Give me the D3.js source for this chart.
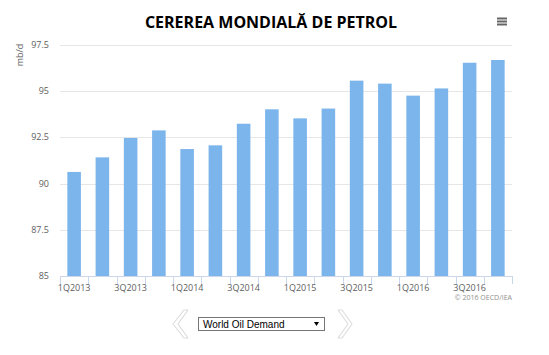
<!DOCTYPE html>
<html><head><meta charset="utf-8">
<script src="https://cdn.jsdelivr.net/npm/d3@7"></script>
<style>
html,body{margin:0;padding:0;background:#fff;}
svg{display:block;}
</style></head>
<body>
<svg id="c" width="549" height="355"></svg>
<script>
const categories = ["1Q2013","2Q2013","3Q2013","4Q2013","1Q2014","2Q2014","3Q2014","4Q2014",
  "1Q2015","2Q2015","3Q2015","4Q2015","1Q2016","2Q2016","3Q2016","4Q2016"];
const demand = [90.63,91.42,92.47,92.88,91.87,92.07,93.24,94.02,93.53,94.06,95.57,95.41,94.76,95.15,96.54,96.69];
const yTicks = [85,87.5,90,92.5,95,97.5];
const title = "CEREREA MONDIALĂ DE PETROL";
const yTitle = "mb/d";
const credit = "© 2016 OECD/IEA";
const selectLabel = "World Oil Demand";

const svg = d3.select("#c");
const pL = 60, pR = 512, pT = 45, pB = 276;
const x = d3.scaleBand().domain(categories).range([pL, pR]).paddingInner(0.52).paddingOuter(0.26);
const y = d3.scaleLinear().domain([85, 97.5]).range([pB, pT]);
const font = "'Open Sans', 'DejaVu Sans', sans-serif";

// grid
svg.append("g").selectAll("line").data(yTicks.filter(d=>d>85)).join("line")
  .attr("x1", pL).attr("x2", pR).attr("y1", d=>Math.round(y(d))+0.5).attr("y2", d=>Math.round(y(d))+0.5)
  .attr("stroke", "#e6e6e6").attr("stroke-width", 1);

// y labels
svg.append("g").selectAll("text").data(yTicks).join("text")
  .attr("x", 49).attr("y", d=>y(d)+3).attr("text-anchor","end")
  .attr("font-family", font).attr("font-size", 9).attr("fill", "#606060")
  .text(d=>d3.format("~g")(d));

// bars
svg.append("g").selectAll("rect").data(demand).join("rect")
  .attr("x", (d,i)=>x(categories[i])).attr("width", x.bandwidth())
  .attr("y", d=>y(d)).attr("height", d=>y(85)-y(d))
  .attr("fill", "#7cb5ec");

// x axis
const step = (pR-pL)/categories.length;
svg.append("line").attr("x1", pL).attr("x2", pR).attr("y1", pB+0.5).attr("y2", pB+0.5)
  .attr("stroke", "#ccd6eb");
svg.append("g").selectAll("line").data(d3.range(categories.length+1)).join("line")
  .attr("x1", i=>Math.round(pL+i*step)+0.5).attr("x2", i=>Math.round(pL+i*step)+0.5)
  .attr("y1", pB).attr("y2", pB+8).attr("stroke", "#ccd6eb");
svg.append("g").selectAll("text").data(categories.filter((d,i)=>i%2===0)).join("text")
  .attr("x", d=>x(d)+x.bandwidth()/2).attr("y", pB+15).attr("text-anchor","middle")
  .attr("font-family", font).attr("font-size", 9).attr("fill", "#606060")
  .text(d=>d);

// y title
svg.append("text").attr("transform", "translate(23,55) rotate(-90)").attr("text-anchor","middle")
  .attr("font-family", font).attr("font-size", 9).attr("fill", "#606060").text(yTitle);

// title
svg.append("text").attr("x", 271).attr("y", 28).attr("text-anchor","middle")
  .attr("font-family", font).attr("font-weight", "bold").attr("font-size", 16).attr("fill", "#000")
  .text(title);

// menu icon
svg.append("g").selectAll("line").data([18.5,21.5,24.5]).join("line")
  .attr("x1", 497).attr("x2", 507).attr("y1", d=>d).attr("y2", d=>d)
  .attr("stroke", "#666").attr("stroke-width", 2);

// credit
svg.append("text").attr("x", 512).attr("y", 300).attr("text-anchor","end")
  .attr("font-family", font).attr("font-size", 7).attr("fill", "#909090").text(credit);

// chevrons
svg.append("path").attr("d", "M184,310 L173,324 L184,338 L188,338 L178,324 L188,310 Z")
  .attr("fill", "#fff").attr("stroke", "#ddd").attr("stroke-width", 1.2).attr("stroke-linejoin","round");
svg.append("path").attr("d", "M338,310 L348,324 L338,338 L342,338 L352,324 L342,310 Z")
  .attr("fill", "#fff").attr("stroke", "#ddd").attr("stroke-width", 1.2).attr("stroke-linejoin","round");

// select box
svg.append("rect").attr("x", 198.5).attr("y", 317.5).attr("width", 126).attr("height", 13)
  .attr("fill", "#fff").attr("stroke", "#767676");
svg.append("text").attr("x", 203).attr("y", 328).attr("font-family", "'Liberation Sans', Arial, sans-serif")
  .attr("font-size", 10).attr("fill", "#000").text(selectLabel);
svg.append("path").attr("d", "M314,322 L319,322 L316.5,326 Z").attr("fill", "#000");
</script>
</body></html>
